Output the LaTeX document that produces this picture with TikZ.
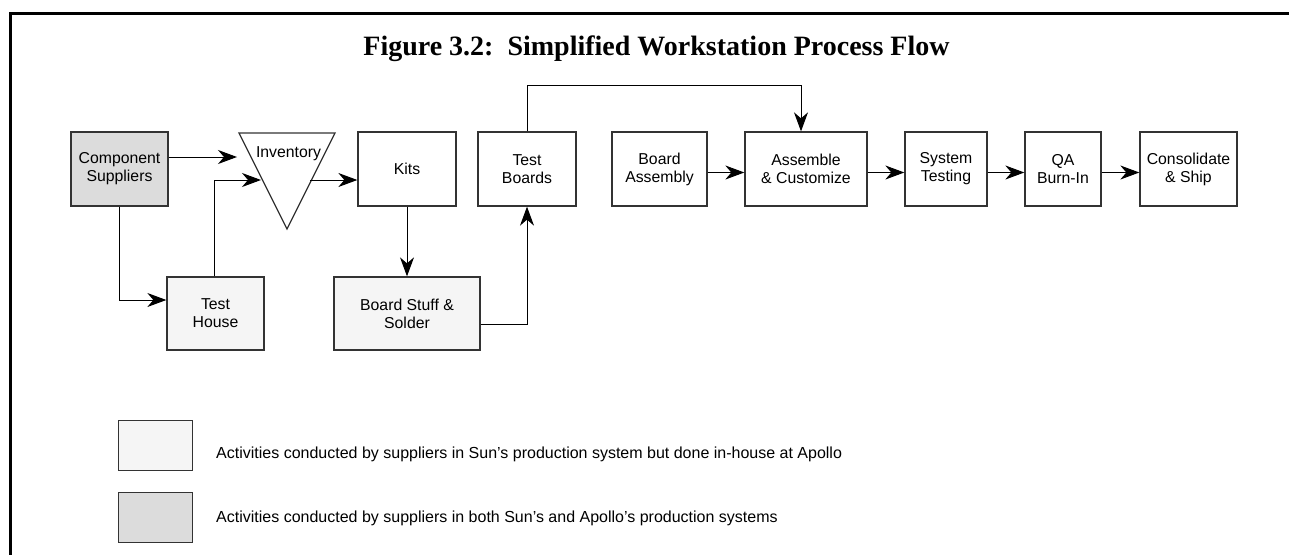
\documentclass[tikz,border=0pt]{standalone}
\usepackage{fontspec}
\setmainfont{Liberation Sans}
\newfontfamily\titlefont{Liberation Serif}
\usetikzlibrary{arrows.meta}
\definecolor{boxline}{HTML}{333333}
\definecolor{lightfill}{HTML}{F5F5F5}
\definecolor{darkfill}{HTML}{DCDCDC}
\tikzset{
  box/.style={draw=boxline, line width=1.3pt, minimum height=74pt, inner sep=0pt, align=center, font=\fontsize{15.8}{18}\selectfont},
  arr/.style={-{Stealth[length=19pt,width=14pt,inset=6pt]}, line width=1pt, black},
  legbox/.style={draw=boxline, line width=1.3pt, minimum width=74pt, minimum height=50pt, inner sep=0pt},
  legtext/.style={anchor=base west, inner sep=0pt, font=\fontsize{16}{18}\selectfont}
}
\begin{document}
\begin{tikzpicture}[x=1pt,y=-1pt]
\useasboundingbox (0,0) rectangle (1289,554);
% frame
\draw[line width=3pt] (10.5,560) -- (10.5,13.5) -- (1292,13.5);
% title
\node[anchor=base, inner sep=0pt, font=\titlefont\bfseries\fontsize{28}{30}\selectfont] (title) at (656.5,55) {Figure 3.2:\ \ Simplified Workstation Process Flow};
% boxes
\node[box, fill=darkfill, minimum width=97pt] (cs) at (119.5,169) {Component\\Suppliers};
\node[box, fill=lightfill, minimum width=97pt, minimum height=73pt] (th) at (215.5,313.5) {Test\\House};
\node[box, minimum width=98pt] (kits) at (407,169) {Kits};
\node[box, fill=lightfill, minimum width=146pt, minimum height=73pt] (bss) at (407,313.5) {Board Stuff \&\\Solder};
\node[box, minimum width=98pt] (tb) at (527,169) {Test\\Boards};
\node[box, minimum width=95pt] (ba) at (659.5,169) {Board\\Assembly};
\node[box, minimum width=122pt] (ac) at (806,169) {Assemble\\\& Customize};
\node[box, minimum width=82pt] (st) at (946,169) {System\\Testing};
\node[box, minimum width=76pt] (qa) at (1063,169) {QA\\Burn-In};
\node[box, minimum width=97pt] (cship) at (1188.5,169) {Consolidate\\\& Ship};
% inventory triangle
\draw[draw=boxline, line width=1.3pt] (239,133) -- (335,133) -- (287,229) -- cycle;
\node[inner sep=0pt, font=\fontsize{15.8}{18}\selectfont] (inv) at (288.5,154) {Inventory};
\coordinate (inA) at (237,157);
\coordinate (inB) at (261,180);
\coordinate (inC) at (310,180);
\coordinate (top) at (801,85);
% connectors
\draw[arr] (cs.east|-inA) -- (inA);
\draw[arr] (cs.south) |- ([yshift=13.5pt]th.west);
\draw[arr] ([xshift=-1pt]th.north) |- (inB);
\draw[arr] (inC) -- (kits.west|-inC);
\draw[arr] (kits.south) -- (bss.north);
\draw[arr] ([yshift=-11pt]bss.east) -| (tb.south);
\draw[arr] (tb.north) |- (top) -- (top|-ac.north);
\draw[arr] ([yshift=-3.5pt]ba.east) -- ([yshift=-3.5pt]ac.west);
\draw[arr] ([yshift=-3.5pt]ac.east) -- ([yshift=-3.5pt]st.west);
\draw[arr] ([yshift=-3.5pt]st.east) -- ([yshift=-3.5pt]qa.west);
\draw[arr] ([yshift=-3.5pt]qa.east) -- ([yshift=-3.5pt]cship.west);
% legend
\node[legbox, fill=lightfill] (leg1) at (155.3,445.3) {};
\node[legbox, fill=darkfill] (leg2) at (155.3,517.7) {};
\node[legtext] (leg1t) at (216,458) {Activities conducted by suppliers in Sun's production system but done in-house at Apollo};
\node[legtext] (leg2t) at (216,522) {Activities conducted by suppliers in both Sun's and Apollo's production systems};
\end{tikzpicture}
\end{document}
